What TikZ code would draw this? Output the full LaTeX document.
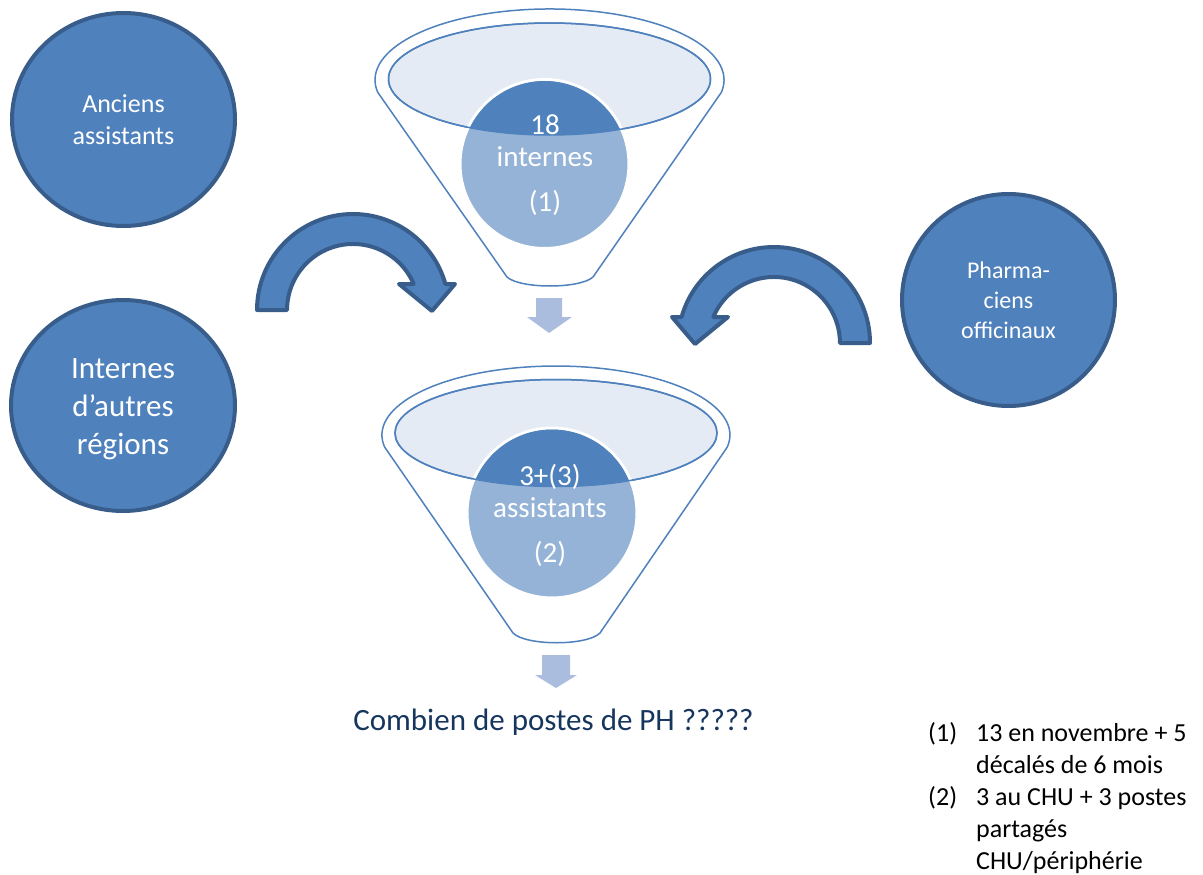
\documentclass[tikz,border=0pt]{standalone}
\usepackage{fontspec}
\setmainfont{Carlito}
\usetikzlibrary{shapes.geometric}
\definecolor{accent}{RGB}{79,129,189}
\definecolor{accentdark}{RGB}{56,93,138}
\definecolor{ballpale}{RGB}{149,179,215}
\definecolor{rimfill}{RGB}{229,235,245}
\definecolor{dropblue}{RGB}{170,189,223}
\definecolor{navy}{RGB}{23,54,93}
\tikzset{
  srcdisc/.style={ellipse, draw=accentdark, fill=accent, line width=4pt, text=white, align=center, inner sep=0pt},
  funnelbody/.style={draw=accent, line width=1.5pt, fill=white},
  funnelrim/.style={draw=accent, line width=1.5pt, fill=rimfill},
  ballfill/.style={fill=ballpale, draw=white, line width=3pt},
  balltext/.style={text=white, align=center, inner sep=0pt, font=\fontsize{29}{32}\selectfont},
  dropshape/.style={fill=dropblue},
  bendbody/.style={fill=accent, draw=accentdark, line width=4pt, line join=round},
  notetext/.style={inner sep=0pt, font=\fontsize{26}{32}\selectfont},
  pics/bendarrow/.style={code={
    \draw[bendbody] (-96,0) arc[start angle=180, end angle=344.3, radius=96]
      -- (102,-26) -- (79,1) -- (46,-26) -- (60.7,-26)
      arc[start angle=336.8, end angle=180, radius=66] -- cycle;
  }},
}

\begin{document}
\begin{tikzpicture}[x=1pt, y=-1pt]
  \useasboundingbox (0,0) rectangle (1203,875);

  % sources
  \node[srcdisc, minimum width=223, minimum height=213, font=\fontsize{26}{32}\selectfont] (anciens) at (123.5,119.5) {Anciens\\assistants};
  \node[srcdisc, minimum width=224, minimum height=211] (autres) at (123,405.5) {};
  \node[text=white, align=center, inner sep=0pt, font=\fontsize{31}{38}\selectfont] (autrestext) at ([yshift=-4pt]autres.center) {Internes\\d’autres\\régions};
  \node[srcdisc, minimum width=213, minimum height=212, font=\fontsize{24}{30}\selectfont] (pharma) at (1008.5,300) {Pharma-\\ciens\\officinaux};

  \pic at (353,310) {bendarrow};
  \pic[xscale=-1] at (774,343) {bendarrow};

  % funnel 1
  \draw[funnelbody] (377.7,92.3) arc[start angle=170, end angle=370, x radius=174.5, y radius=71]
    -- (593,277) .. controls (580,289) and (520,289) .. (507,277) -- cycle;
  \draw[funnelrim] (549.5,79) ellipse [x radius=161, y radius=56];
  \draw[ballfill] (544.5,164) circle [radius=84.5];
  \begin{scope}
    \clip (549.5,79) ellipse [x radius=161, y radius=56];
    \fill[accent] (544.5,164) circle [radius=83];
  \end{scope}
  \draw[accent, line width=1.5pt] (549.5,79) ellipse [x radius=161, y radius=56];
  \node[balltext] (internes) at (545,165) {18\\internes\\[13pt](1)};
  \fill[dropshape] (536,298) -- (562,298) -- (562,317) -- (572,317) -- (549,333) -- (527,317) -- (536,317) -- cycle;

  % funnel 2
  \draw[funnelbody] (384.6,447) arc[start angle=170, end angle=370, x radius=174, y radius=69]
    -- (600,633) .. controls (587,646) and (526,646) .. (513,633) -- cycle;
  \draw[funnelrim] (556,433) ellipse [x radius=161, y radius=53.5];
  \draw[ballfill] (552,513) circle [radius=85];
  \begin{scope}
    \clip (556,433) ellipse [x radius=161, y radius=53.5];
    \fill[accent] (552,513) circle [radius=83.5];
  \end{scope}
  \draw[accent, line width=1.5pt] (556,433) ellipse [x radius=161, y radius=53.5];
  \node[balltext] (assistants) at (550,515) {3+(3)\\assistants\\[13pt](2)};
  \fill[dropshape] (542,655) -- (570,655) -- (570,675) -- (577,675) -- (556,688) -- (535,675) -- (542,675) -- cycle;

  \node[text=navy, inner sep=0pt, font=\fontsize{31}{38}\selectfont] (question) at (553.5,722) {Combien de postes de PH ?????};

  % notes
  \node[notetext, anchor=north west] (notes) at (928,718.6) {%
    \begin{tabular}{@{}l@{\hspace{19pt}}l@{}}
      (1) & 13 en novembre + 5\\
          & décalés de 6 mois\\
      (2) & 3 au CHU + 3 postes\\
          & partagés\\
          & CHU/périphérie
    \end{tabular}};
\end{tikzpicture}
\end{document}
